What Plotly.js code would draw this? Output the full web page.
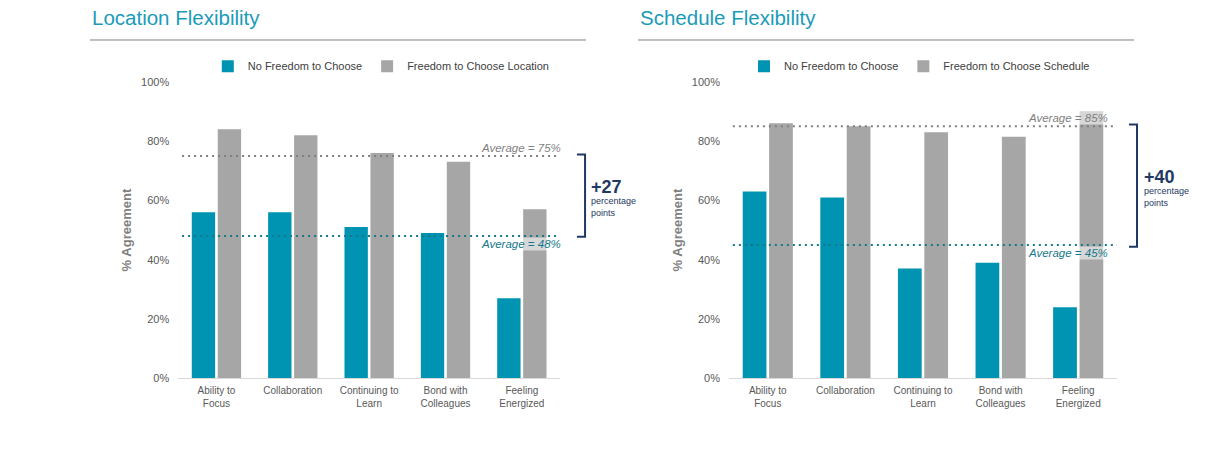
<!DOCTYPE html>
<html>
<head>
<meta charset="utf-8">
<script src="https://cdn.plot.ly/plotly-3.0.1.min.js"></script>
<style>html,body{margin:0;padding:0;background:#fff;}#chart{width:1226px;height:453px;}</style>
</head>
<body>
<div id="chart"></div>
<script>
// ---- data ----
var categories = ["Ability to<br>Focus", "Collaboration", "Continuing to<br>Learn", "Bond with<br>Colleagues", "Feeling<br>Energized"];
var seriesNames = ["No Freedom to Choose", "Freedom to Choose Location", "Freedom to Choose Schedule"];
var panelTitles = ["Location Flexibility", "Schedule Flexibility"];
var locationNo = [56, 56, 51, 49, 27];
var locationYes = [84, 82, 76, 73, 57];
var scheduleNo = [63, 61, 37, 39, 24];
var scheduleYes = [86, 85, 83, 81.5, 90];
var locationAvg = [48, 75];   // [no freedom, freedom]
var scheduleAvg = [45, 85];
var yTicks = [0, 20, 40, 60, 80, 100];

// ---- styles ----
var TEAL = "#0093b2", GRAY = "#a6a6a6", NAVY = "#1f3864", TITLE = "#1a9bb8";
var AVG_GRAY = "#7f7f7f", AVG_TEAL = "#16788a";
var FONT = "Liberation Sans, Arial, sans-serif";
var TICK = "#595959";

function bar(name, y, xa, ya, color, legend) {
  return {type: "bar", name: name, x: categories, y: y, xaxis: xa, yaxis: ya,
          marker: {color: color}, legend: legend, hoverinfo: "y"};
}
var data = [
  bar(seriesNames[0], locationNo, "x", "y", TEAL, "legend"),
  bar(seriesNames[1], locationYes, "x", "y", GRAY, "legend"),
  bar(seriesNames[0], scheduleNo, "x2", "y2", TEAL, "legend2"),
  bar(seriesNames[2], scheduleYes, "x2", "y2", GRAY, "legend2")
];

function xaxis(domain, anchor) {
  return {domain: domain, anchor: anchor, showline: true, linecolor: "#d9d9d9", linewidth: 1,
          ticks: "", ticklabelstandoff: 3, color: TICK,
          tickfont: {size: 10, color: TICK, family: FONT}, fixedrange: true};
}
function yaxis(anchor) {
  return {domain: [0.1649, 0.8194], anchor: anchor, range: [0, 100], tickvals: yTicks,
          ticktext: yTicks.map(function (v) { return v + "%"; }), showgrid: false, zeroline: false,
          showline: false, ticks: "", ticklabelstandoff: 8, color: TICK,
          tickfont: {size: 11, color: TICK, family: FONT},
          title: {text: "<b>% Agreement</b>", font: {size: 13, color: "#7f7f7f", family: FONT}, standoff: 6},
          fixedrange: true};
}

function avgLine(xref, yref, v, color) {
  return {type: "line", xref: xref + " domain", yref: yref, x0: 0.01, x1: 1, y0: v, y1: v,
          line: {color: color, width: 2, dash: "2px,4px"}};
}
function bracket(x0, x1, yref, lo, hi) {
  return {type: "path", xref: "paper", yref: yref,
          path: "M" + x0 + "," + hi + " L" + x1 + "," + hi + " L" + x1 + "," + lo + " L" + x0 + "," + lo,
          line: {color: NAVY, width: 2}};
}
function underline(x0, x1) {
  return {type: "line", xref: "paper", yref: "paper", x0: x0, x1: x1, y0: 0.9117, y1: 0.9117,
          line: {color: "#7f7f7f", width: 1}};
}
var shapes = [
  underline(0.0734, 0.478), underline(0.5204, 0.925),
  avgLine("x", "y", locationAvg[1], AVG_GRAY), avgLine("x", "y", locationAvg[0], AVG_TEAL),
  avgLine("x2", "y2", scheduleAvg[1], AVG_GRAY), avgLine("x2", "y2", scheduleAvg[0], AVG_TEAL),
  bracket(0.4706, 0.4772, "y", locationAvg[0] - 0.3, locationAvg[1] + 0.5),
  bracket(0.9209, 0.9274, "y2", scheduleAvg[0] - 0.6, scheduleAvg[1] + 0.6)
];

function avgLabel(xa, ya, v, color, above, xshift) {
  return {xref: xa + " domain", yref: ya, x: 1, y: v, xanchor: "right",
          yanchor: above ? "bottom" : "top", yshift: above ? 1 : -1, xshift: xshift,
          text: "<i>Average = " + v + "%</i>", showarrow: false,
          font: {size: 11.5, color: color, family: FONT}, bgcolor: "rgba(255,255,255,0.55)", borderpad: 0};
}
function title(x, t) {
  return {xref: "paper", yref: "paper", x: x, y: 0.962, xanchor: "left", yanchor: "middle",
          text: t, showarrow: false, font: {size: 20.5, color: TITLE, family: FONT}};
}
function diffLabel(x, y, y2, d) {
  return [
    {xref: "paper", yref: "paper", x: x, y: y, xanchor: "left", yanchor: "middle", showarrow: false,
     text: "<b>+" + d + "</b>", font: {size: 18, color: NAVY, family: FONT}},
    {xref: "paper", yref: "paper", x: x, y: y2, xanchor: "left", yanchor: "middle", showarrow: false, align: "left",
     text: "percentage<br>points", font: {size: 9, color: NAVY, family: FONT}}
  ];
}
var annotations = [
  title(0.0734, panelTitles[0]), title(0.5204, panelTitles[1]),
  avgLabel("x", "y", locationAvg[1], AVG_GRAY, true, 2),
  avgLabel("x", "y", locationAvg[0], AVG_TEAL, false, 2),
  avgLabel("x2", "y2", scheduleAvg[1], AVG_GRAY, true, -8),
  avgLabel("x2", "y2", scheduleAvg[0], AVG_TEAL, false, -8)
].concat(diffLabel(0.4805, 0.588, 0.5437, locationAvg[1] - locationAvg[0]))
 .concat(diffLabel(0.9318, 0.6093, 0.5647, scheduleAvg[1] - scheduleAvg[0]));

function legend(x) {
  return {orientation: "h", x: x, y: 0.854, xanchor: "center", yanchor: "middle",
          font: {size: 11, color: "#404040", family: FONT}, itemwidth: 30, bgcolor: "rgba(0,0,0,0)"};
}

var layout = {
  width: 1226, height: 453, margin: {l: 0, r: 0, t: 0, b: 0},
  paper_bgcolor: "#fff", plot_bgcolor: "#fff",
  font: {family: FONT, color: TICK},
  barmode: "group", bargap: 0.32, bargroupgap: 0.1,
  xaxis: xaxis([0.1454, 0.4568], "y"),
  yaxis: yaxis("x"),
  xaxis2: xaxis([0.5946, 0.9111], "y2"),
  yaxis2: yaxis("x2"),
  legend: legend(0.311),
  legend2: legend(0.750),
  shapes: shapes,
  annotations: annotations,
  showlegend: true
};

Plotly.newPlot("chart", data, layout, {displayModeBar: false, staticPlot: true});
</script>
</body>
</html>
